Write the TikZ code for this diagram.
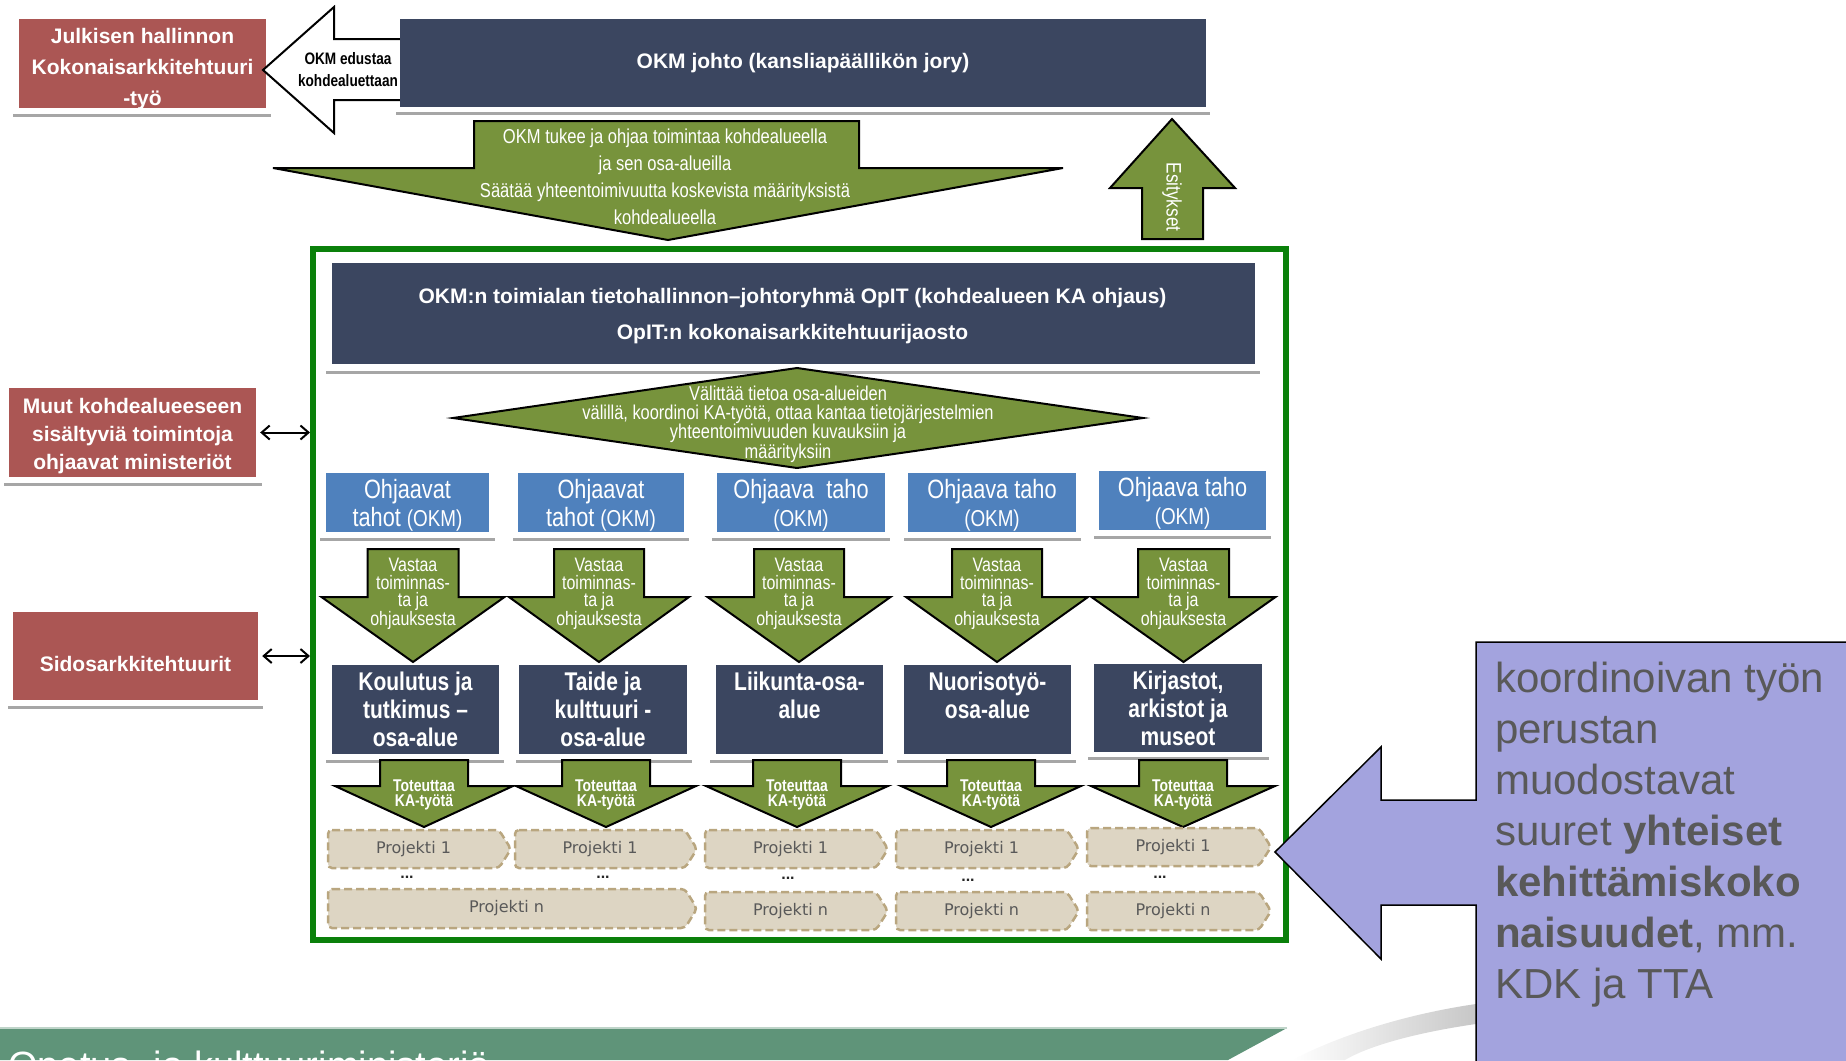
\documentclass[tikz,border=0pt]{standalone}
\usepackage{fontspec}
\setmainfont{Liberation Sans}
\newfontfamily\projfont{DejaVu Sans}
\newfontfamily\narrowfont[FakeStretch=0.82]{Liberation Sans}
\usetikzlibrary{arrows.meta}
\definecolor{redbox}{HTML}{AB5654}
\definecolor{navy}{HTML}{3B4660}
\definecolor{olive}{HTML}{77933C}
\definecolor{bluebox}{HTML}{4F81BD}
\definecolor{grayline}{HTML}{A6A6A6}
\definecolor{framegreen}{HTML}{0A800A}
\definecolor{projfill}{HTML}{DDD5C3}
\definecolor{projdraw}{HTML}{B9A67F}
\definecolor{lav}{HTML}{A3A3DE}
\definecolor{footgreen}{HTML}{5F9479}
\definecolor{txtgray}{HTML}{595959}
\tikzset{
  redfill/.style={fill=redbox, inner sep=0},
  navyfill/.style={fill=navy, inner sep=0},
  bluefill/.style={fill=bluebox, inner sep=0},
  boldtext/.style={text=white, font=\bfseries\fontsize{21}{28}\selectfont, align=center, inner sep=0},
  narrowbold/.style={text=white, font=\narrowfont\bfseries\fontsize{25.6}{28}\selectfont, align=center, inner sep=0},
  bluetext/.style={text=white, font=\narrowfont\fontsize{26.5}{28}\selectfont, align=center, inner sep=0},
  gline/.style={draw=grayline, line width=3},
  greenarrow/.style={fill=olive, draw=black, line width=2, line join=miter},
  arrowtext/.style={text=white, align=center, inner sep=0},
  projbox/.style={fill=projfill, draw=projdraw, line width=2.5, dash pattern=on 8 off 4, rounded corners=4},
  projtext/.style={text=txtgray, font=\projfont\fontsize{16}{19}\selectfont, inner sep=0},
  dotstext/.style={text=black!85, font=\bfseries\fontsize{16}{16}\selectfont, inner sep=0},
  dblarrow/.style={{Straight Barb[length=8pt,width=14pt]}-{Straight Barb[length=8pt,width=14pt]}, line width=2},
}
\newcommand\okmsmall{\fontsize{23}{28}\selectfont(OKM)}
\newcommand\dnarrow[6]{%
  \draw[greenarrow] (#1-#2,#4) -- (#1+#2,#4) -- (#1+#2,#5) -- (#1+#3,#5) -- (#1,#6) -- (#1-#3,#5) -- (#1-#2,#5) -- cycle;}
\newcommand\projshape[6]{%
  \draw[projbox] (#2,#3) -- (#4-12,#3) -- (#4,{(#3+#5)/2}) -- (#4-12,#5) -- (#2,#5) -- cycle;
  \node[projtext] (#1) at ({(#2+#4-12)/2},{(#3+#5)/2}) {#6};}
\begin{document}
\begin{tikzpicture}[x=1pt,y=-1pt]
\useasboundingbox (0,0) rectangle (1846,1060);
% footer
\fill[footgreen] (0,1028) -- (1287,1028) -- (1228,1060) -- (0,1060) -- cycle;
\draw[footgreen!40!white, line width=1.5] (0,1028) -- (1287,1028);
\node[anchor=base west, text=white, font=\fontsize{38}{40}\selectfont, inner sep=0] (footer) at (8,1078) {Opetus- ja kulttuuriministeriö};
\shade[left color=white, right color=black!22] (1292,1060) .. controls (1350,1030) and (1420,1012) .. (1476,1004) -- (1476,1024) .. controls (1420,1032) and (1370,1045) .. (1345,1060) -- cycle;

% left red boxes
\node[redfill, minimum width=247, minimum height=89] (jh) at (142.5,63.5) {};
\node[boldtext, font=\bfseries\fontsize{21}{31}\selectfont] (jhtext) at (142.5,69) {Julkisen hallinnon\\Kokonaisarkkitehtuuri\\-työ};
\draw[gline] (13,115) -- (271,115);
\node[redfill, minimum width=247, minimum height=89] (muut) at (132.5,432.5) {};
\node[boldtext] (muuttext) at (132.5,436) {Muut kohdealueeseen\\sisältyviä toimintoja\\ohjaavat ministeriöt};
\draw[gline] (4,484) -- (262,484);
\node[redfill, minimum width=245, minimum height=88] (sidos) at (135.5,656) {};
\node[boldtext] (sidostext) at (135.5,664) {Sidosarkkitehtuurit};
\draw[gline] (8,707) -- (263,707);

% white arrow
\draw[fill=white, draw=black, line width=2] (402,39) -- (334,39) -- (334,7) -- (263,70) -- (334,133) -- (334,100) -- (402,100) -- cycle;
\node[text=black, font=\narrowfont\bfseries\fontsize{16.6}{22}\selectfont, align=center, inner sep=0] (edustaa) at (348,70) {OKM edustaa\\kohdealuettaan};

% OKM johto
\node[navyfill, minimum width=806, minimum height=88] (johto) at (803,63) {};
\node[boldtext] (johtotext) at (803,63) {OKM johto (kansliapäällikön jory)};
\draw[gline] (396,113) -- (1210,113);

% big down arrow
\draw[greenarrow] (474,121) -- (859,121) -- (859,168) -- (1063,168) -- (668,240) -- (273,168) -- (474,168) -- cycle;
\node[arrowtext, font=\narrowfont\fontsize{20.2}{27}\selectfont] (tukee) at (665,177) {OKM tukee ja ohjaa toimintaa kohdealueella\\ja sen osa-alueilla\\Säätää yhteentoimivuutta koskevista määrityksistä\\kohdealueella};

% up arrow
\draw[greenarrow] (1142,239) -- (1142,188) -- (1110,188) -- (1172,119) -- (1235,188) -- (1203,188) -- (1203,239) -- cycle;
\node[arrowtext, font=\narrowfont\fontsize{21}{22}\selectfont, rotate=-90] (esitykset) at (1172,197) {Esitykset};

% green frame
\node[draw=framegreen, line width=6, minimum width=973, minimum height=691, inner sep=0] (frame) at (799.5,594.5) {};
\draw[dblarrow] ([xshift=4]muut.east) -- (muut.east -| frame.west);
\draw[dblarrow] ([xshift=4]sidos.east) -- (sidos.east -| frame.west);

% OpIT
\node[navyfill, minimum width=923, minimum height=101] (opit) at (793.5,313.5) {};
\node[boldtext, font=\bfseries\fontsize{21}{36}\selectfont] (opittext) at (792.5,316) {OKM:n toimialan tietohallinnon–johtoryhmä OpIT (kohdealueen KA ohjaus)\\OpIT:n kokonaisarkkitehtuurijaosto};
\draw[gline] (326,372) -- (1260,372);

% diamond
\draw[greenarrow] (453,418) -- (797,368) -- (1143,418) -- (797,468) -- cycle;
\node[arrowtext, font=\narrowfont\fontsize{20}{19.3}\selectfont] (valittaa) at (788,424) {Välittää tietoa osa-alueiden\\välillä, koordinoi KA-työtä, ottaa kantaa tietojärjestelmien\\yhteentoimivuuden kuvauksiin ja\\määrityksiin};

% blue boxes
\node[bluefill, minimum width=163, minimum height=59] (b1) at (407.5,502.5) {};
\node[bluefill, minimum width=166, minimum height=59] (b2) at (601,502.5) {};
\node[bluefill, minimum width=168, minimum height=59] (b3) at (801,502.5) {};
\node[bluefill, minimum width=168, minimum height=59] (b4) at (992,502.5) {};
\node[bluefill, minimum width=167, minimum height=59] (b5) at (1182.5,500.5) {};
\node[bluetext] (b1t) at (407.5,505) {Ohjaavat\\tahot {\okmsmall}};
\node[bluetext] (b2t) at (601,505) {Ohjaavat\\tahot {\okmsmall}};
\node[bluetext] (b3t) at (801,505) {Ohjaava\ \ taho\\{\okmsmall}};
\node[bluetext] (b4t) at (992,505) {Ohjaava taho\\{\okmsmall}};
\node[bluetext] (b5t) at (1182.5,503) {Ohjaava taho\\{\okmsmall}};
\draw[gline] (320,539) -- (495,539);
\draw[gline] (513,539) -- (689,539);
\draw[gline] (712,539) -- (890,539);
\draw[gline] (904,539) -- (1081,539);
\draw[gline] (1094,537) -- (1271,537);

% Vastaa arrows
\dnarrow{413}{45.5}{91.5}{549}{597}{662}
\dnarrow{599}{45}{90}{549}{597}{662}
\dnarrow{799}{45}{91.5}{549}{597}{662}
\dnarrow{997}{45}{91}{549}{597}{662}
\dnarrow{1183.5}{45.5}{92}{549}{597}{662}
\foreach \cx/\nm in {413/v1,599/v2,799/v3,997/v4,1183.5/v5}{
  \node[arrowtext, font=\narrowfont\fontsize{19.5}{17.5}\selectfont] (\nm) at (\cx,594) {Vastaa\\toiminnas-\\ta ja\\ohjauksesta};
}

% osa-alue boxes
\node[navyfill, minimum width=167, minimum height=89] (d1) at (415.5,709.5) {};
\node[navyfill, minimum width=168, minimum height=89] (d2) at (603,709.5) {};
\node[navyfill, minimum width=167, minimum height=89] (d3) at (799.5,709.5) {};
\node[navyfill, minimum width=167, minimum height=89] (d4) at (987.5,709.5) {};
\node[navyfill, minimum width=168, minimum height=88] (d5) at (1178,708) {};
\node[narrowbold, anchor=north] (d1t) at (415.5,672) {Koulutus ja\\tutkimus –\\osa-alue};
\node[narrowbold, anchor=north] (d2t) at (603,672) {Taide ja\\kulttuuri -\\osa-alue};
\node[narrowbold, anchor=north] (d3t) at (799.5,672) {Liikunta-osa-\\alue};
\node[narrowbold, anchor=north] (d4t) at (987.5,672) {Nuorisotyö-\\osa-alue};
\node[narrowbold, anchor=north] (d5t) at (1178,671) {Kirjastot,\\arkistot ja\\museot};
\draw[gline] (326,761) -- (504,761);
\draw[gline] (516,761) -- (692,761);
\draw[gline] (710,761) -- (888,761);
\draw[gline] (897,761) -- (1076,761);
\draw[gline] (1088,758) -- (1269,758);

% Toteuttaa arrows
\dnarrow{424}{44}{89}{760}{786}{827}
\dnarrow{606}{44}{90}{760}{786}{827}
\dnarrow{797}{44}{91}{760}{786}{827}
\dnarrow{991}{44}{90}{760}{786}{827}
\dnarrow{1183}{44}{92}{760}{786}{827}
\foreach \cx/\nm in {424/t1,606/t2,797/t3,991/t4,1183/t5}{
  \node[arrowtext, font=\narrowfont\bfseries\fontsize{17}{14.5}\selectfont] (\nm) at (\cx,795) {Toteuttaa\\KA-työtä};
}

% projects
\projshape{p11}{328}{830}{511}{868}{Projekti 1}
\projshape{p21}{515}{830}{697}{868}{Projekti 1}
\projshape{p31}{705}{830}{888}{868}{Projekti 1}
\projshape{p41}{896}{830}{1079}{868}{Projekti 1}
\projshape{p51}{1087}{828}{1271}{866}{Projekti 1}
\node[dotstext] (dots1) at (407,877) {...};
\node[dotstext] (dots2) at (603,877) {...};
\node[dotstext] (dots3) at (788,878) {...};
\node[dotstext] (dots4) at (968,880) {...};
\node[dotstext] (dots5) at (1160,877) {...};
\projshape{p1n}{328}{889}{697}{928}{Projekti n}
\projshape{p3n}{705}{892}{888}{930}{Projekti n}
\projshape{p4n}{896}{892}{1079}{930}{Projekti n}
\projshape{p5n}{1087}{892}{1271}{930}{Projekti n}

% purple arrow box
\draw[fill=lav, draw=black, line width=1.5, line join=miter] (1476,642) -- (1852,642) -- (1852,1066) -- (1476,1066) -- (1476,905) -- (1381,905) -- (1381,959) -- (1275,852) -- (1381,747) -- (1381,800) -- (1476,800) -- cycle;
\node[anchor=north west, align=left, text=txtgray, font=\fontsize{42}{51}\selectfont, inner sep=0] (koord) at (1495,662) {koordinoivan työn\\perustan\\muodostavat\\suuret \textbf{yhteiset}\\\textbf{kehittämiskoko}\\\textbf{naisuudet}, mm.\\KDK ja TTA};
\end{tikzpicture}
\end{document}
